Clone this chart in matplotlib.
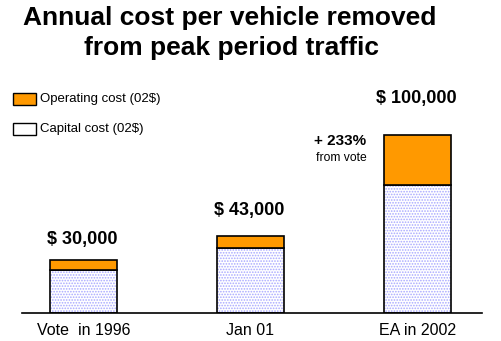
import matplotlib
matplotlib.use("Agg")
import matplotlib.pyplot as plt
import numpy as np

plt.rcParams['font.family'] = ['Liberation Sans', 'DejaVu Sans']
plt.rcParams['hatch.linewidth'] = 0.8

categories = ['Vote  in 1996', 'Jan 01', 'EA in 2002']
capital = [24200, 36700, 72000]
operating = [5800, 6300, 28000]
totals = [30000, 43000, 100000]
total_labels = ['$ 30,000', '$ 43,000', '$ 100,000']

W, H = 501, 341
fig = plt.figure(figsize=(W / 100, H / 100), dpi=100)
fig.patch.set_facecolor('white')

# axes placed in pixel terms: baseline at y=313, spans x 22..482
ax = fig.add_axes([22 / W, 28 / H, 460 / W, 233 / H])
x = np.arange(len(categories))
bw = 0.40

dot_fill = dict(color='white', edgecolor='#a8a8ff', hatch='......', linewidth=0)

# capital part: dotted lavender fill, then black outline on top
ax.bar(x, capital, bw, **dot_fill)
ax.bar(x, capital, bw, color='none', edgecolor='black', linewidth=1.2)
ax.bar(x, operating, bw, bottom=capital, color='#ff9900', edgecolor='black', linewidth=1.2)

ax.set_xlim(-0.368, 2.386)
ax.set_ylim(0, 130900)
for s in ['top', 'right', 'left']:
    ax.spines[s].set_visible(False)
ax.spines['bottom'].set_linewidth(1.2)
ax.set_yticks([])
ax.set_xticks(x)
ax.set_xticklabels(categories, fontsize=11.5)
ax.tick_params(axis='x', length=0, pad=7)

# totals above the bars
offsets = [20, 26, 37]
for xi, t, lab, off in zip(x, totals, total_labels, offsets):
    ax.annotate(lab, (xi, t), xytext=(-1, off * 0.72), textcoords='offset points',
                ha='center', va='center', fontsize=13, fontweight='bold')

ax.annotate('+ 233%', (2, totals[2]), xytext=(-56, -4), textcoords='offset points',
            ha='center', va='center', fontsize=11, fontweight='bold')
ax.annotate('from vote', (2, totals[2]), xytext=(-55, -16.5), textcoords='offset points',
            ha='center', va='center', fontsize=8.7)

fig.text(230 / W, 1 - 18 / H, 'Annual cost per vehicle removed', ha='center', va='center',
         fontsize=19, fontweight='bold')
fig.text(231 / W, 1 - 48 / H, 'from peak period traffic', ha='center', va='center',
         fontsize=19, fontweight='bold')

# legend boxes drawn by hand at the left
fig.patches.append(plt.Rectangle((13 / W, 1 - 105 / H), 23 / W, 12 / H, transform=fig.transFigure,
                                 facecolor='#ff9900', edgecolor='black', linewidth=1))
fig.patches.append(plt.Rectangle((13 / W, 1 - 135 / H), 23 / W, 12 / H, transform=fig.transFigure,
                                 **dot_fill))
fig.patches.append(plt.Rectangle((13 / W, 1 - 135 / H), 23 / W, 12 / H, transform=fig.transFigure,
                                 facecolor='none', edgecolor='black', linewidth=1))
fig.text(40 / W, 1 - 99 / H, 'Operating cost (02$)', ha='left', va='center', fontsize=9.5)
fig.text(40 / W, 1 - 129 / H, 'Capital cost (02$)', ha='left', va='center', fontsize=9.5)

fig.savefig('out.png', dpi=100, facecolor='white')
